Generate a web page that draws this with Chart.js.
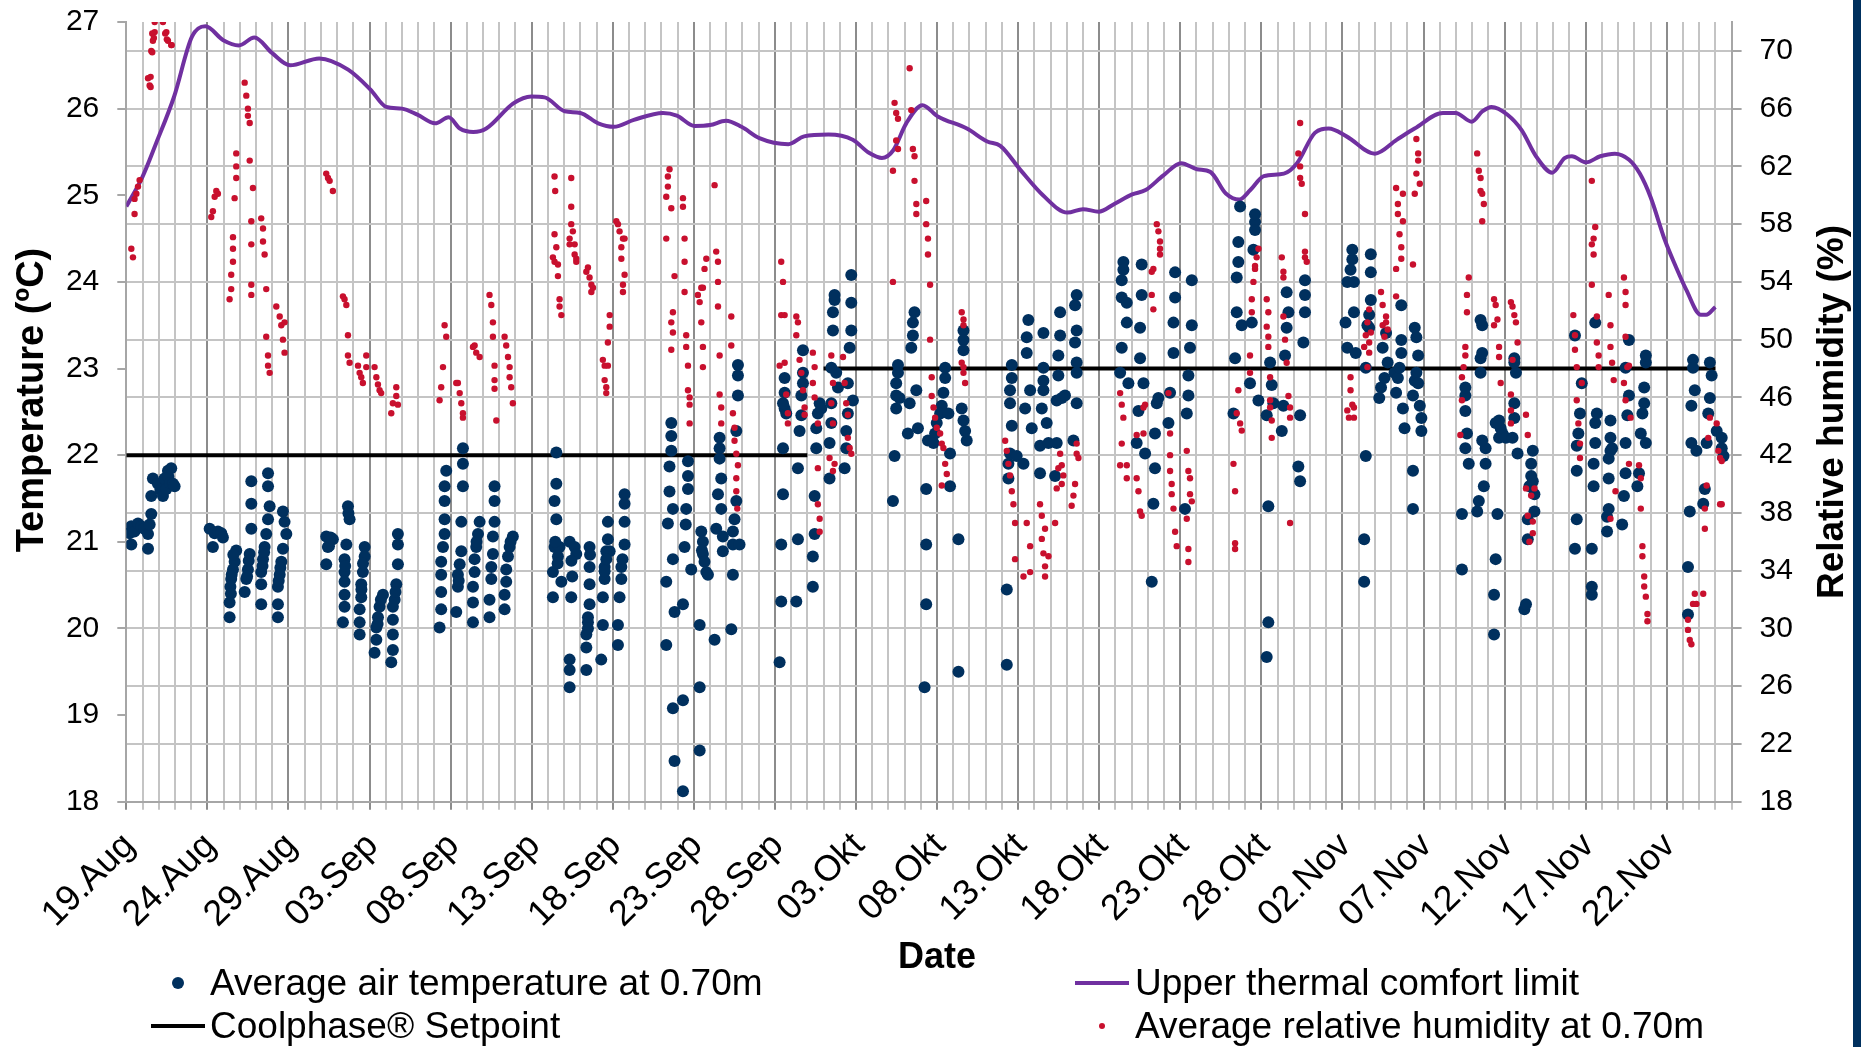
<!DOCTYPE html>
<html>
<head>
<meta charset="utf-8">
<title>Coolphase - temperature and humidity</title>
<script src="https://cdn.jsdelivr.net/npm/chart.js@4.4.1/dist/chart.umd.min.js"></script>
<style>
  html, body { margin: 0; padding: 0; background: #fff; }
  #wrap { position: relative; width: 1861px; height: 1047px; overflow: hidden; font-family: "Liberation Sans", Arial, sans-serif; color: #000; }
  #chart { position: absolute; left: 0; top: 0; }
  .ttl { position: absolute; width: 700px; height: 44px; line-height: 44px; text-align: center; font-weight: bold; white-space: nowrap; }
  .vert { transform: rotate(-90deg); transform-origin: 50% 50%; }
  .leg { position: absolute; font-size: 37px; line-height: 37px; white-space: nowrap; }
  .mk { position: absolute; }
  #edge { position: absolute; left: 1853px; top: 0; width: 8px; height: 1047px; background: #00305e; }
</style>
</head>
<body>
<div id="wrap">
  <canvas id="chart" width="1861" height="1047"></canvas>
  <div class="ttl vert" style="left:-320px; top:378px; font-size:38px;">Temperature (ºC)</div>
  <div class="ttl vert" style="left:1481px; top:390px; font-size:37px;">Relative humidity (%)</div>
  <div class="ttl" style="left:587px; top:934px; font-size:36px;">Date</div>
  <div id="legend"></div>
  <div id="edge"></div>
</div>
<script>
// x values are days counted from 19.Aug (day 0)
const dateLabels = ['19.Aug', '24.Aug', '29.Aug', '03.Sep', '08.Sep', '13.Sep', '18.Sep', '23.Sep', '28.Sep', '03.Okt',
  '08.Okt', '13.Okt', '18.Okt', '23.Okt', '28.Okt', '02.Nov', '07.Nov', '12.Nov', '17.Nov', '22.Nov'];

// Average air temperature at 0.70m  [day, degC]
const airTemp = [
  [0.2,21.1],[0.31,20.97],[0.31,21.18],[0.5,21.12],[0.72,21.21],[0.92,21.18],[1.1,21.15],[1.34,20.92],[1.34,21.09],[1.44,21.2],
  [1.54,21.32],[1.54,21.53],[1.64,21.73],[1.95,21.67],[2.1,21.6],[2.26,21.53],[2.36,21.73],[2.47,21.61],[2.57,21.82],[2.6,21.75],
  [2.7,21.68],[2.77,21.85],[2.88,21.67],[2.98,21.64],
  [5.14,21.15],[5.34,20.94],[5.45,21.1],[5.65,21.12],[5.86,21.1],[5.96,21.05],
  [6.78,20.9],[6.68,20.77],[6.58,20.68],[6.47,20.57],[6.42,20.48],[6.37,20.3],[6.37,20.13],[6.6,20.85],[6.5,20.62],[6.45,20.4],
  [7.71,21.7],[7.71,21.44],[7.71,21.15],[7.61,20.86],[7.5,20.68],[7.4,20.57],[7.3,20.42],[7.55,20.78],[7.45,20.6],
  [8.74,21.79],[8.74,21.64],[8.84,21.41],[8.74,21.26],[8.63,21.09],[8.53,20.94],[8.43,20.8],[8.32,20.65],[8.32,20.51],[8.32,20.28],
  [8.4,20.72],[8.5,20.88],
  [9.66,21.35],[9.76,21.23],[9.87,21.09],[9.66,20.92],[9.56,20.77],[9.46,20.62],[9.35,20.48],[9.35,20.28],[9.35,20.13],[9.5,20.7],[9.4,20.55],
  [12.33,21.06],[12.43,20.94],[12.33,20.74],[12.74,21.03],[12.5,20.95],[12.6,21.05],
  [13.67,21.41],[13.77,21.26],[13.57,20.97],[13.46,20.8],[13.46,20.65],[13.46,20.54],[13.46,20.39],[13.46,20.25],[13.36,20.07],[13.7,21.33],[13.5,20.72],
  [14.7,20.94],[14.7,20.83],[14.59,20.65],[14.49,20.51],[14.49,20.36],[14.39,20.22],[14.39,20.07],[14.39,19.93],[14.6,20.75],[14.5,20.45],
  [15.83,20.39],[15.62,20.25],[15.52,20.13],[15.42,20.01],[15.42,19.87],[15.31,19.72],[15.7,20.33],[15.5,20.05],
  [16.75,21.09],[16.75,20.97],[16.75,20.74],[16.65,20.51],[16.55,20.33],[16.44,20.25],[16.44,20.1],[16.44,19.93],[16.44,19.75],[16.34,19.61],[16.6,20.42],
  [19.73,21.82],[19.63,21.64],[19.63,21.47],[19.63,21.26],[19.63,21.09],[19.53,20.94],[19.42,20.77],[19.42,20.62],[19.42,20.42],[19.42,20.22],[19.32,20.01],
  [20.76,22.08],[20.76,21.9],[20.76,21.64],[20.66,21.23],[20.66,20.89],[20.56,20.74],[20.45,20.62],[20.45,20.48],[20.35,20.19],[20.5,20.55],
  [21.79,21.23],[21.69,21.09],[21.58,20.94],[21.48,20.8],[21.48,20.65],[21.38,20.48],[21.38,20.3],[21.38,20.07],[21.6,21.0],
  [22.71,21.64],[22.71,21.47],[22.71,21.23],[22.61,21.06],[22.61,20.86],[22.51,20.71],[22.51,20.57],[22.4,20.33],[22.4,20.13],
  [23.84,21.06],[23.64,20.94],[23.54,20.83],[23.43,20.68],[23.43,20.54],[23.33,20.39],[23.33,20.22],[23.7,21.0],
  [26.52,22.03],[26.52,21.67],[26.41,21.47],[26.52,21.26],[26.41,20.94],[26.72,20.94],[26.31,20.65],[26.83,20.54],[26.31,20.36],[26.62,20.83],
  [26.45,21.0],[26.6,20.75],
  [27.34,21.0],[27.65,20.94],[27.75,20.86],[27.44,20.36],[27.34,19.64],[27.34,19.52],[27.34,19.32],[27.5,20.6],[27.45,20.78],
  [28.37,19.52],[28.57,20.94],[28.57,20.71],[28.57,20.51],[28.57,20.28],[28.47,20.07],[28.37,19.93],[28.37,19.78],[28.47,20.13],[28.47,20.0],[28.6,20.85],
  [29.29,19.64],[29.39,20.04],[29.39,20.36],[29.5,20.57],[29.5,20.71],[29.6,20.89],[29.7,21.03],[29.7,21.23],[29.81,20.89],[29.6,20.8],[29.5,20.66],
  [30.32,19.81],[30.32,20.04],[30.42,20.36],[30.53,20.57],[30.53,20.71],[30.73,20.97],[30.73,21.23],[30.73,21.44],[30.73,21.55],[30.6,20.8],
  [33.3,19.81],[33.3,20.54],[33.4,21.21],[33.5,21.58],[33.5,21.87],[33.61,22.05],[33.61,22.22],[33.61,22.37],[33.71,21.38],[33.71,20.8],
  [33.81,20.19],[33.71,19.08],[33.81,18.47],
  [34.33,19.17],[34.33,20.28],[34.43,20.94],[34.53,21.38],[34.64,21.61],[34.64,21.76],[34.64,21.93],[34.33,18.12],[34.5,21.2],
  [35.36,18.59],[35.36,19.32],[35.36,20.04],[34.84,20.68],[35.46,21.12],[35.56,21.0],[35.56,20.86],[35.66,20.77],[35.77,20.65],[35.87,20.62],[35.5,20.9],
  [36.28,19.87],[36.38,21.15],[36.49,21.55],[36.59,21.96],[36.59,22.08],[36.59,22.2],[36.69,21.73],[36.69,21.38],[36.79,21.06],[36.79,20.89],
  [37.31,19.99],[37.41,20.62],[37.41,20.97],[37.41,21.12],[37.51,21.26],[37.62,21.47],[37.62,22.28],[37.72,22.69],[37.72,22.92],[37.72,23.04],[37.82,20.97],
  [40.29,19.61],[40.39,20.31],[40.39,20.97],[40.5,21.55],[40.5,22.08],[40.6,22.54],[40.6,22.72],[40.6,22.89],[40.7,22.48],[40.5,22.6],
  [41.32,20.31],[41.42,21.03],[41.42,21.85],[41.52,22.28],[41.63,22.46],[41.63,22.69],[41.73,22.83],[41.73,22.95],[41.73,23.21],
  [42.34,20.48],[42.34,20.83],[42.45,21.09],[42.45,21.53],[42.55,22.08],[42.55,22.31],[42.65,22.48],[42.76,22.6],[42.86,22.54],
  [43.37,21.73],[43.37,22.14],[43.48,22.37],[43.48,22.6],[43.48,23.01],[43.58,23.44],[43.58,23.65],[43.68,23.79],[43.68,23.85],[43.78,22.95],[43.89,22.78],
  [44.3,21.85],[44.4,22.08],[44.4,22.28],[44.5,22.48],[44.5,22.83],[44.61,23.24],[44.71,23.44],[44.71,23.76],[44.71,24.08],[44.81,22.63],
  [47.28,21.47],[47.38,21.99],[47.48,22.54],[47.48,22.69],[47.48,22.83],[47.59,22.95],[47.59,23.04],[47.69,22.66],
  [48.2,22.25],[48.31,22.6],[48.41,23.24],[48.51,23.38],[48.51,23.53],[48.61,23.65],[48.72,22.75],[48.82,22.31],
  [49.23,19.32],[49.33,20.28],[49.33,20.97],[49.33,21.61],[49.44,22.17],
  [50.5,23.01],[50.5,22.89],[50.39,22.72],[50.29,22.57],[50.19,22.48],[49.98,22.37],[49.88,22.25],[49.78,22.14],[50.7,22.48],[50.8,22.02],
  [50.8,21.64],[51.32,21.03],[51.32,19.5],
  [51.63,23.44],[51.63,23.33],[51.63,23.21],[51.52,22.54],[51.63,22.4],[51.73,22.28],[51.83,22.17],
  [54.3,19.58],[54.3,20.45],[54.4,21.73],[54.4,21.9],[54.5,22.02],[54.61,22.34],[54.5,22.6],[54.5,22.75],[54.61,22.89],[54.61,23.04],
  [54.91,21.99],[55.33,21.9],[55.43,22.54],[55.53,23.18],[55.53,23.36],[55.63,23.56],[55.74,22.75],[55.84,22.31],
  [56.35,21.79],[56.35,22.11],[56.46,22.54],[56.56,22.75],[56.56,22.86],[56.56,23.01],[56.56,23.41],[56.76,22.37],
  [56.87,22.14],[57.28,21.76],[57.38,22.14],[57.38,22.63],[57.48,22.92],[57.48,23.15],[57.59,23.38],[57.59,23.65],[57.69,22.66],[57.89,22.69],
  [58.41,22.17],[58.61,22.6],[58.61,22.95],[58.61,23.07],[58.51,23.3],[58.61,23.44],[58.51,23.73],[58.61,23.85],
  [61.29,22.95],[61.39,23.24],[61.39,23.82],[61.39,24.02],[61.49,24.23],[61.7,23.53],[61.8,22.83],[61.7,23.76],[61.49,24.14],
  [62.31,22.14],[62.42,22.51],[62.52,23.12],[62.52,23.47],[62.62,24.2],[62.62,23.85],[62.73,22.83],[62.83,22.02],
  [63.24,20.54],[63.34,21.44],[63.44,21.85],[63.44,22.25],[63.55,22.6],[63.65,22.66],
  [64.27,22.37],[64.37,22.72],[64.58,23.18],[64.58,23.53],[64.68,23.82],[64.68,24.11],
  [65.29,21.38],[65.4,22.48],[65.5,22.69],[65.5,22.92],[65.6,23.24],[65.71,23.5],[65.71,24.02],
  [68.28,22.48],[68.38,23.12],[68.48,23.65],[68.48,24.05],[68.58,24.23],[68.58,24.46],[68.69,24.87],
  [68.79,23.5],[69.3,22.83],[69.41,23.53],[69.51,24.37],[69.61,24.69],[69.61,24.6],[69.61,24.78],
  [69.82,22.63],[70.33,22.46],[70.43,21.41],[70.43,20.07],[70.33,19.67],[70.54,23.07],[70.64,22.81],[70.74,22.6],
  [71.26,22.28],[71.36,22.57],[71.46,23.15],[71.56,23.47],[71.67,23.65],[71.56,23.88],
  [72.28,21.87],[72.39,21.7],[72.39,22.46],[72.59,23.3],[72.69,23.65],[72.69,23.85],[72.69,24.02],
  [75.3,23.24],[75.19,23.53],[75.3,24.0],[75.5,24.14],[75.61,24.26],[75.61,24.37],[75.71,23.65],[75.82,23.18],[75.71,24.0],
  [76.34,20.54],[76.34,21.03],[76.44,21.99],[76.44,23.01],[76.65,23.47],[76.65,23.62],[76.75,23.79],[76.75,24.11],[76.75,24.32],[76.54,23.5],
  [77.27,22.66],[77.38,22.78],[77.48,23.24],[77.69,23.41],[77.79,23.07],[77.59,22.89],
  [78.21,22.95],[78.31,22.72],[78.42,22.89],[78.52,23.01],[78.63,23.18],[78.63,23.33],[78.63,23.73],[78.73,22.54],[78.83,22.31],
  [79.35,21.38],[79.35,21.82],[79.35,22.69],[79.46,22.86],[79.56,22.95],[79.67,22.83],[79.67,23.15],[79.56,23.36],[79.46,23.47],[79.77,22.57],
  [79.87,22.43],[79.87,22.28],
  [82.37,20.68],[82.37,21.32],[82.58,22.08],[82.58,22.51],[82.58,22.69],[82.58,22.78],[82.79,21.9],[82.68,22.25],
  [83.31,21.35],[83.41,21.47],[83.72,21.64],[83.83,21.9],[83.83,22.08],[83.62,22.17],[83.52,22.95],[83.52,23.12],[83.62,23.18],[83.62,23.5],[83.52,23.56],
  [84.35,19.93],[84.35,20.39],[84.45,20.8],[84.56,21.32],[84.66,22.2],[84.76,22.31],[84.66,22.4],[84.45,22.37],[84.87,22.25],[85.08,22.2],
  [85.49,22.2],[85.6,22.43],[85.6,22.6],[85.7,22.95],[85.6,23.07],[85.6,23.12],[85.8,22.02],
  [86.22,20.22],[86.32,20.28],[86.43,21.03],[86.43,21.26],[86.53,21.64],[86.64,21.76],[86.64,21.9],[86.74,22.05],[86.84,21.35],[86.84,21.55],[86.74,21.7],
  [89.34,20.92],[89.45,21.26],[89.45,21.82],[89.45,22.11],[89.55,22.25],[89.65,22.48],[89.76,22.83],[89.34,23.38],
  [90.38,20.39],[90.38,20.48],[90.38,20.92],[90.49,21.64],[90.49,21.9],[90.59,22.14],[90.59,22.37],[90.69,22.48],[90.59,23.53],
  [91.32,21.12],[91.32,21.29],[91.42,21.38],[91.42,21.73],[91.42,21.96],[91.53,22.05],[91.53,22.2],[91.53,22.4],[91.63,22.08],
  [92.25,21.2],[92.36,21.53],[92.46,21.79],[92.46,22.14],[92.57,22.46],[92.67,22.69],[92.67,23.33],[92.46,23.01],
  [93.19,21.64],[93.29,21.79],[93.4,22.25],[93.5,22.48],[93.61,22.6],[93.61,22.78],[93.71,23.07],[93.71,23.15],[93.71,22.14],
  [96.31,20.16],[96.31,20.71],[96.42,21.35],[96.52,22.14],[96.52,22.57],[96.62,23.1],[96.73,22.75],[96.83,22.05],[96.62,23.01],
  [97.25,21.44],[97.35,21.61],[97.46,22.14],[97.56,22.48],[97.66,22.66],[97.77,22.92],[97.66,23.07],[98.08,22.28],[98.39,22.2],[98.5,21.99],[98.39,22.08]
];

// Average relative humidity at 0.70m  [day, %]
const relHum = [
  [0.31,56.3],[0.41,55.7],[0.51,58.7],[0.62,60.1],[0.72,60.6],[0.82,61.05],[0.51,59.75],
  [1.34,68.1],[1.44,67.6],[1.54,70.0],[1.64,70.7],[1.75,71.3],[1.75,72.0],[2.26,72.0],[2.47,71.3],[2.57,70.7],[2.77,70.4],
  [1.6,71.2],[1.7,70.9],[1.6,69.9],[1.5,68.2],[1.5,67.5],[2.4,71.2],[2.5,70.8],[2.8,70.4],
  [5.24,58.5],[5.34,58.9],[5.45,59.9],[5.55,60.3],[5.65,60.1],
  [6.37,52.8],[6.47,53.5],[6.47,54.5],[6.58,55.4],[6.58,56.3],[6.58,57.1],[6.68,59.8],[6.78,62.0],[6.78,62.9],[6.78,61.2],
  [7.3,67.8],[7.4,66.9],[7.5,66.0],[7.5,65.5],[7.61,65.0],[7.61,62.4],[7.81,60.5],[7.71,58.2],[7.71,56.6],[7.71,53.8],[7.71,53.1],
  [8.32,58.4],[8.43,57.7],[8.43,56.8],[8.53,55.9],[8.63,53.5],[8.63,50.2],[8.74,48.9],[8.74,48.2],[8.84,47.7],
  [9.25,52.3],[9.46,51.6],[9.56,51.0],[9.76,51.2],[9.66,50.0],[9.76,49.1],
  [12.33,61.5],[12.54,61.0],[12.74,60.3],[12.44,61.2],
  [13.36,53.0],[13.57,52.4],[13.67,50.3],[13.67,48.9],[13.77,48.4],[13.46,52.8],
  [14.29,48.2],[14.39,47.7],[14.59,47.0],[14.8,48.9],[14.8,48.1],[14.49,47.4],
  [15.31,48.1],[15.42,47.4],[15.52,46.9],[15.72,46.3],[15.62,46.5],
  [16.34,44.9],[16.44,45.6],[16.65,46.1],[16.65,46.7],[16.75,45.5],
  [19.32,45.8],[19.42,46.7],[19.53,48.1],[19.63,51.0],[19.73,50.2],
  [20.35,47.0],[20.56,46.3],[20.66,45.6],[20.76,44.9],[20.76,44.6],[20.45,47.0],
  [21.38,49.5],[21.58,49.1],[21.79,48.8],[21.48,49.6],
  [22.4,53.1],[22.51,52.4],[22.61,51.2],[22.61,50.2],[22.71,48.2],[22.71,47.2],[22.71,46.6],[22.82,44.4],
  [23.33,50.2],[23.43,49.6],[23.54,48.8],[23.64,48.1],[23.64,47.4],[23.74,46.7],[23.84,45.6],
  [26.41,61.3],[26.45,60.3],[26.41,57.3],[26.52,56.4],[26.31,55.7],[26.41,55.4],[26.62,55.2],[26.62,54.4],[26.72,52.8],[26.72,52.3],[26.83,51.7],
  [27.44,61.2],[27.44,59.2],[27.44,58.0],[27.54,57.5],[27.34,57.0],[27.34,56.6],[27.65,56.6],[27.65,55.9],[27.75,55.4],[27.75,55.6],
  [28.37,54.7],[28.47,55.0],[28.57,54.3],[28.68,53.8],[28.68,53.3],[28.78,53.6],
  [29.81,51.7],[29.81,50.9],[29.7,49.8],[29.39,48.6],[29.5,48.2],[29.7,48.2],[29.5,47.2],[29.6,46.7],[29.6,46.3],
  [30.22,58.2],[30.32,58.0],[30.42,57.5],[30.53,56.4],[30.63,57.0],[30.73,57.0],[30.53,55.6],[30.73,54.5],[30.63,53.8],[30.63,53.3],
  [33.3,57.0],[33.3,59.9],[33.4,60.6],[33.4,61.3],[33.5,61.8],[33.61,59.1],[33.81,54.4],[33.61,51.2],[33.71,51.9],[33.71,50.5],[33.61,49.3],
  [34.33,59.8],[34.33,59.2],[34.43,57.0],[34.43,55.4],[34.43,53.3],[34.53,50.3],[34.53,49.5],[34.64,48.2],[34.64,46.5],[34.74,46.0],[34.74,45.5],[34.74,44.2],
  [35.25,53.1],[35.36,52.6],[35.46,53.6],[35.56,53.6],[35.66,54.9],[35.77,55.6],[35.46,51.2],[35.56,49.5],[35.56,48.1],
  [36.28,60.7],[36.38,56.1],[36.49,55.4],[36.49,54.0],[36.49,52.3],[36.59,48.9],[36.59,46.2],[36.69,45.3],[36.69,44.2],
  [37.31,51.6],[37.31,49.6],[37.41,44.9],[37.51,43.9],[37.51,43.0],[37.62,42.1],[37.72,41.3],[37.62,40.4],[37.62,39.5],[37.68,38.3],
  [40.39,55.4],[40.5,54.0],[40.39,51.7],[40.6,51.7],[40.29,48.2],[40.6,48.4],[40.7,46.2],[40.8,44.9],[40.8,44.2],
  [41.32,51.6],[41.42,51.2],[41.32,50.3],[41.52,48.6],[41.63,47.7],[41.73,46.5],[41.83,45.3],[41.83,44.8],
  [42.34,49.1],[42.45,48.1],[42.34,47.0],[42.45,46.0],[42.65,44.2],[42.65,41.1],[42.65,38.6],[42.76,37.6],[42.76,36.7],
  [43.48,48.9],[43.58,47.0],[43.48,45.6],[43.58,44.2],[43.37,41.8],[43.58,40.9],[43.68,41.4],
  [44.2,48.8],[44.3,47.0],[44.4,45.6],[44.5,44.8],[44.5,43.2],[44.61,42.5],[44.71,42.1],
  [47.28,61.7],[47.38,66.4],[47.48,65.7],[47.59,65.3],[47.48,63.8],[47.59,63.2],[47.28,54.0],
  [48.31,68.8],[48.41,65.9],[48.51,63.2],[48.61,62.7],[48.61,61.0],[48.72,59.4],[48.72,58.7],
  [49.33,59.6],[49.33,58.0],[49.44,57.0],[49.44,55.9],[49.57,53.8],[49.57,50.0],
  [49.67,47.4],[49.67,46.1],[49.78,45.3],[49.88,44.6],[49.98,43.9],[50.19,43.5],[50.29,42.8],[50.39,42.5],[50.5,41.4],[50.6,40.7],[50.29,39.9],
  [51.52,51.9],[51.63,51.4],[51.63,51.0],[51.52,48.4],[51.63,48.1],[51.63,47.7],[51.73,47.0],
  [54.2,43.0],[54.3,42.3],[54.4,41.4],[54.5,40.6],[54.61,39.5],[54.71,38.6],[54.81,37.3],[54.81,34.8],[55.33,33.6],[55.53,37.3],[55.74,33.9],[55.74,35.7],
  [56.35,38.6],[56.46,37.8],[56.46,36.2],[56.56,35.2],[56.66,34.3],[56.66,33.6],[56.87,35.0],[56.66,36.9],
  [57.28,37.3],[57.38,39.7],[57.48,41.1],[57.59,42.1],[57.69,41.3],[57.69,40.0],[57.79,40.6],[58.41,39.2],[58.51,40.0],[58.61,42.1],[58.61,42.8],[58.72,41.8],[58.3,38.5],
  [61.29,46.3],[61.39,45.5],[61.49,44.6],[61.39,42.8],[61.29,41.3],[61.7,41.3],[61.7,40.4],
  [62.31,43.4],[62.31,40.4],[62.42,39.5],[62.52,38.1],[62.62,37.8],[62.73,43.5],[62.73,45.3],[62.83,45.5],
  [63.24,54.7],[63.24,53.1],[63.34,52.1],[63.34,54.9],[63.55,58.0],[63.65,57.5],[63.75,56.8],[63.75,56.3],[63.75,55.9],
  [64.27,46.3],[64.37,43.5],[64.37,42.0],[64.37,40.9],[64.47,40.0],[64.47,39.3],[64.58,38.3],[64.68,36.7],[64.78,35.7],
  [65.4,42.3],[65.5,40.9],[65.6,40.4],[65.6,39.3],[65.71,38.8],[65.5,35.5],[65.5,34.6],[65.4,37.6],
  [68.28,41.4],[68.38,39.5],[68.38,35.9],[68.38,35.5],[68.48,44.9],[68.58,46.5],[68.69,44.2],[68.79,43.7],
  [69.3,47.7],[69.3,48.9],[69.41,51.9],[69.41,52.8],[69.51,54.0],[69.61,54.9],[69.61,55.1],[69.71,55.7],[69.82,56.3],
  [70.33,52.8],[70.43,51.9],[70.33,50.9],[70.43,50.2],[70.54,47.4],[70.54,45.8],[70.54,45.3],[70.64,44.4],[70.64,43.2],[70.43,49.5],
  [71.26,55.7],[71.36,54.7],[71.36,54.3],[71.36,51.6],[71.46,50.0],[71.56,48.4],[71.67,46.1],[71.77,45.3],[71.77,44.6],[71.77,37.3],
  [72.39,65.0],[72.28,62.9],[72.39,62.0],[72.39,61.2],[72.49,60.8],[72.69,58.7],[72.69,56.1],[72.69,55.7],[72.8,55.4],
  [75.3,45.1],[75.4,44.6],[75.5,47.4],[75.5,46.5],[75.61,45.5],[75.71,45.3],[75.71,44.6],
  [76.34,49.5],[76.44,50.3],[76.54,51.2],[76.54,48.1],[76.65,52.1],[76.65,49.8],[76.65,49.1],[76.75,50.5],
  [77.38,53.3],[77.48,52.4],[77.48,51.0],[77.59,50.2],[77.69,51.2],[77.79,50.7],[77.69,51.6],
  [78.31,60.5],[78.42,59.4],[78.42,58.7],[78.52,57.3],[78.63,56.4],[78.63,55.6],[78.31,54.9],[78.31,53.0],[78.73,58.2],[78.73,60.1],
  [79.35,55.2],[79.46,60.1],[79.56,61.5],[79.67,62.4],[79.67,62.9],[79.56,63.9],[79.77,60.8],
  [82.27,43.4],[82.37,45.8],[82.37,47.4],[82.47,48.1],[82.58,48.9],[82.58,49.5],[82.68,51.9],[82.68,53.1],[82.79,54.3],
  [83.31,62.9],[83.41,61.7],[83.52,61.2],[83.52,60.3],[83.62,60.1],[83.72,59.4],[83.62,58.2],
  [84.35,52.8],[84.45,52.4],[84.56,51.4],[84.66,49.5],[84.66,48.8],[84.76,47.0],[84.35,51.0],
  [85.39,52.6],[85.49,52.3],[85.6,51.7],[85.7,51.2],[85.8,49.8],[85.49,48.6],[85.39,46.2],[85.39,45.1],[85.39,44.2],
  [86.32,44.8],[86.43,43.4],[86.32,39.7],[86.43,37.8],[86.53,36.0],[86.64,39.2],[86.74,37.4],[86.74,36.6],[86.84,39.7],
  [89.24,51.7],[89.34,50.3],[89.34,49.3],[89.45,48.1],[89.45,45.8],[89.55,44.2],[89.65,42.8],[89.65,41.8],[89.76,47.0],
  [90.38,61.0],[90.38,56.6],[90.49,55.9],[90.38,53.8],[90.59,57.8],[90.49,57.0],[90.69,51.6],[90.69,49.8],[90.8,48.9],[90.8,48.1],
  [91.42,53.1],[91.53,51.0],[91.53,49.5],[91.63,48.4],[91.73,47.2],[91.53,37.6],[91.84,39.5],
  [92.36,54.3],[92.46,53.3],[92.46,52.4],[92.46,50.2],[92.57,48.1],[92.36,47.0],[92.46,45.8],[92.67,48.2],[92.77,44.6],[92.67,41.4],
  [93.29,41.3],[93.4,40.4],[93.4,38.3],[93.5,35.7],[93.5,35.0],[93.61,33.6],[93.61,32.9],[93.71,32.2],[93.81,31.0],[93.81,30.5],
  [96.31,30.6],[96.31,29.9],[96.42,29.2],[96.52,28.9],[96.62,31.7],[96.73,32.4],[96.83,31.7],[97.25,32.4],[97.35,36.9],[97.35,38.3],
  [97.46,39.9],[97.56,43.2],[97.66,44.6],
  [98.08,44.2],[98.18,42.3],[98.29,41.8],[98.39,41.6],[98.29,38.6],[98.39,38.6]
];

// Upper thermal comfort limit  (day, degC)
const comfortDays = [0, 0.97, 1.84, 2.95, 4.05, 4.88, 5.98, 6.94, 7.9, 9.0, 10.1, 11.9, 13.68, 15.06, 16.03, 17.0, 17.95, 19.05, 19.88, 20.57,
  21.4, 22.2, 23.87, 24.97, 25.8, 27.04, 28.0, 29.1, 30.07, 31.3, 33.1, 33.95, 35.05, 36.0, 36.98, 37.94, 39.04, 40.83, 41.8, 43.3,
  44.8, 45.8, 46.6, 47.3, 48.1, 49.1, 50.05, 51.84, 53.1, 53.9, 55.15, 56.53, 58.04, 59.0, 59.97, 60.93, 62.03, 62.86, 63.96, 65.06,
  66.03, 66.85, 67.81, 68.64, 69.32, 70.15, 71.39, 72.2, 73.3, 74.15, 75.25, 77.0, 78.34, 79.45, 81.2, 81.98, 82.97, 83.64, 84.19, 85.18,
  86.06, 86.94, 87.94, 88.7, 89.15, 90.03, 90.9, 91.8, 92.68, 93.34, 94.0, 94.89, 95.55, 96.2, 97.1, 97.43, 98.0];
const comfortTemps = [24.87, 25.2, 25.6, 26.14, 26.83, 26.95, 26.79, 26.73, 26.82, 26.64, 26.5, 26.58, 26.45, 26.22, 26.02, 26.0, 25.93, 25.83, 25.9, 25.77,
  25.73, 25.77, 26.06, 26.14, 26.13, 25.97, 25.95, 25.83, 25.79, 25.87, 25.95, 25.92, 25.8, 25.81, 25.86, 25.79, 25.66, 25.59, 25.68, 25.7,
  25.64, 25.49, 25.43, 25.52, 25.83, 26.04, 25.91, 25.77, 25.62, 25.57, 25.29, 25.0, 24.8, 24.84, 24.81, 24.9, 25.01, 25.06, 25.23, 25.37,
  25.3, 25.27, 25.02, 24.95, 25.06, 25.22, 25.25, 25.37, 25.72, 25.77, 25.68, 25.48, 25.64, 25.77, 25.95, 25.95, 25.85, 25.97, 26.02, 25.93,
  25.75, 25.45, 25.26, 25.43, 25.45, 25.38, 25.45, 25.48, 25.41, 25.25, 24.98, 24.48, 24.18, 23.91, 23.62, 23.62, 23.71];

// Coolphase setpoint: 22 degC until 30.Sep, 23 degC from 01.Okt (null = break)
const setpointDays = [0, 42, 42.5, 43, 98];
const setpointTemps = [22, 22, null, 23, 23];

const NAVY = '#00305e';
const RED = '#c8102e';
const PURPLE = '#7030a0';
const FONT = '"Liberation Sans", Arial, sans-serif';
const GRID_LIGHT = '#c4c4c4';
const GRID_DARK = '#8c8c8c';
const AXIS_GREY = '#a6a6a6';

function toXY(days, vals) {
  return days.map((d, i) => ({ x: d, y: vals[i] }));
}

function pairsToXY(pairs) {
  return pairs.map(p => ({ x: p[0], y: p[1] }));
}

function stepTicks(from, to, step) {
  const out = [];
  for (let v = from; v <= to + 1e-9; v += step) out.push({ value: v });
  return out;
}

// fixed box sizes so the plot area sits where the original one does
function fixVertical(width) {
  return s => { s.width = width; s.paddingTop = 0; s.paddingBottom = 0; };
}

const datasets = [
  { label: 'Average relative humidity at 0.70m', data: pairsToXY(relHum), yAxisID: 'y1',
    backgroundColor: RED, borderWidth: 0, pointRadius: 3.2, order: 1, legendKind: 'dot' },
  { label: 'Average air temperature at 0.70m', data: pairsToXY(airTemp), yAxisID: 'y',
    backgroundColor: NAVY, borderWidth: 0, pointRadius: 6, order: 2, legendKind: 'dot' },
  { type: 'line', label: 'Upper thermal comfort limit', data: toXY(comfortDays, comfortTemps), yAxisID: 'y',
    borderColor: PURPLE, borderWidth: 4, pointRadius: 0, tension: 0.4, cubicInterpolationMode: 'monotone', order: 3, legendKind: 'line' },
  { type: 'line', label: 'Coolphase® Setpoint', data: toXY(setpointDays, setpointTemps), yAxisID: 'y',
    borderColor: '#000', borderWidth: 4, pointRadius: 0, spanGaps: false, order: 4, legendKind: 'line' }
];

const chart = new Chart(document.getElementById('chart'), {
  type: 'scatter',
  data: { datasets: datasets },
  options: {
    responsive: false,
    animation: false,
    devicePixelRatio: 1,
    layout: { padding: { top: 22, left: 0, right: 0, bottom: 0 } },
    plugins: { legend: { display: false }, tooltip: { enabled: false } },
    scales: {
      x: {
        type: 'linear', position: 'bottom', min: 0, max: 99,
        afterFit: s => { s.height = 245.3; s.paddingLeft = 0; s.paddingRight = 0; },
        afterBuildTicks: s => { s.ticks = stepTicks(0, 99, 1); },
        ticks: {
          autoSkip: false, minRotation: 45, maxRotation: 45, padding: 15, labelOffset: 3,
          color: '#000', font: { family: FONT, size: 36 },
          callback: v => (v % 5 === 0 && dateLabels[v / 5]) ? dateLabels[v / 5] : ''
        },
        grid: {
          color: c => (c.tick && c.tick.value % 5 === 0) ? GRID_DARK : GRID_LIGHT,
          tickColor: c => (c.tick && c.tick.value % 5 === 0) ? GRID_DARK : GRID_LIGHT,
          lineWidth: 2, tickLength: 8
        },
        border: { color: AXIS_GREY, width: 2 }
      },
      y: {
        position: 'left', min: 18, max: 27,
        afterFit: fixVertical(126.3),
        afterBuildTicks: s => { s.ticks = stepTicks(18, 27, 1); },
        ticks: { color: '#000', font: { family: FONT, size: 30 }, padding: 18 },
        grid: { drawOnChartArea: false, tickLength: 9, color: AXIS_GREY, lineWidth: 2 },
        border: { color: AXIS_GREY, width: 2 }
      },
      y1: {
        position: 'right', min: 18, max: 72,
        afterFit: fixVertical(1861 - 1731.6),
        afterBuildTicks: s => { s.ticks = stepTicks(18, 72, 2); },
        ticks: {
          color: '#000', font: { family: FONT, size: 30 }, padding: 18,
          callback: v => ((v - 18) % 4 === 0 && v < 72) ? String(v) : ''
        },
        grid: {
          color: GRID_LIGHT, lineWidth: 2, tickLength: 10,
          tickColor: c => (c.tick && (c.tick.value - 18) % 4 === 0) ? AXIS_GREY : 'rgba(0,0,0,0)'
        },
        border: { color: AXIS_GREY, width: 2 }
      }
    }
  }
});

// legend in two columns under the axis, like the original
const legendSpots = [
  { ds: 1, x: 210, base: 995, mk: 178 },
  { ds: 3, x: 210, base: 1038, mk: 178 },
  { ds: 2, x: 1135, base: 995, mk: 1102 },
  { ds: 0, x: 1135, base: 1038, mk: 1102 }
];

function buildLegend() {
  const box = document.getElementById('legend');
  legendSpots.forEach(spot => {
    const ds = datasets[spot.ds];
    const midY = spot.base - 12;
    const mk = document.createElement('div');
    mk.className = 'mk';
    if (ds.legendKind === 'dot') {
      const r = ds.pointRadius;
      mk.style.cssText = `left:${spot.mk - r}px;top:${midY - r}px;width:${2 * r}px;height:${2 * r}px;border-radius:50%;background:${ds.backgroundColor}`;
    } else {
      mk.style.cssText = `left:${spot.mk - 27}px;top:${midY - 2}px;width:54px;height:4px;background:${ds.borderColor}`;
    }
    box.appendChild(mk);
    const txt = document.createElement('div');
    txt.className = 'leg';
    txt.style.left = spot.x + 'px';
    txt.style.top = (spot.base - 31) + 'px';
    txt.textContent = ds.label;
    box.appendChild(txt);
  });
}
buildLegend();
</script>
</body>
</html>
